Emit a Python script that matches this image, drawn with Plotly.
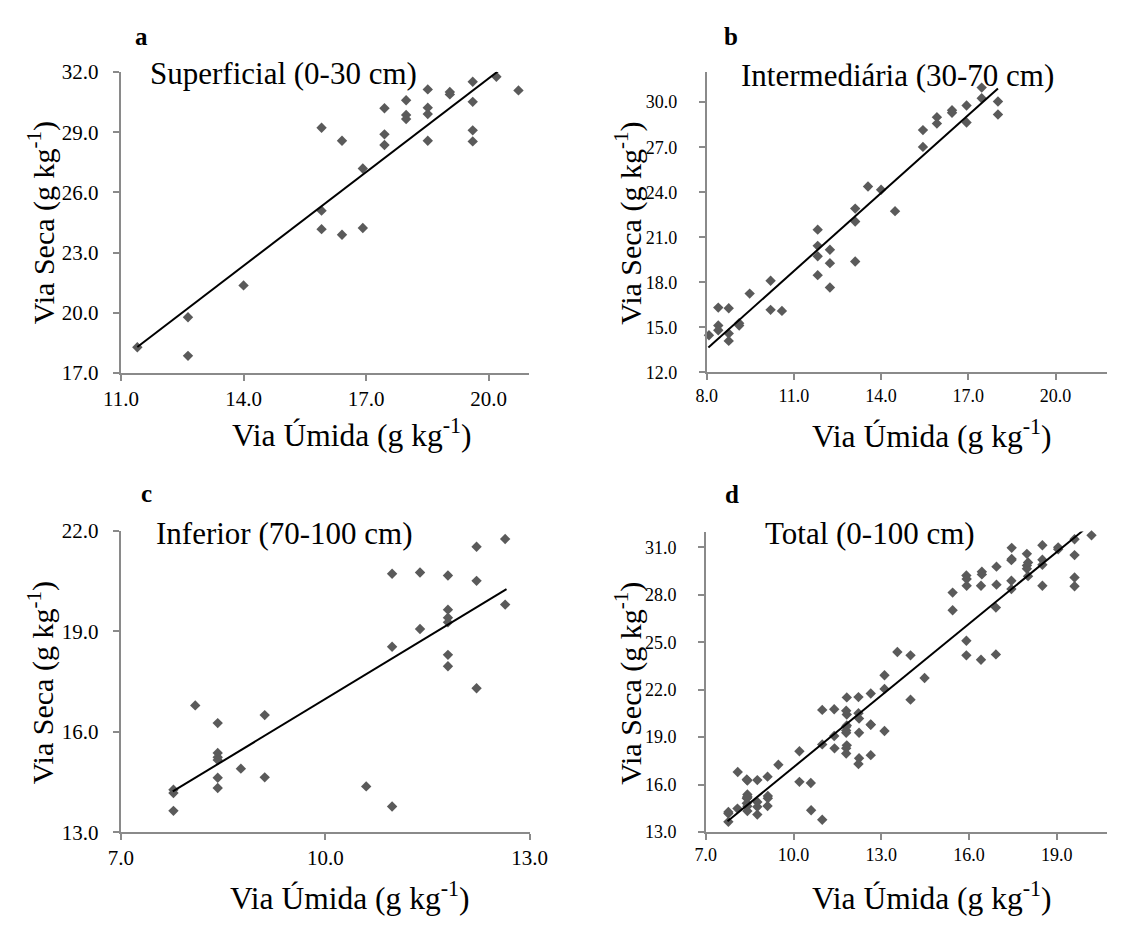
import plotly.graph_objects as go

# ---------------- data ----------------
a_x = [11.40, 12.64, 12.64, 14.00, 15.91, 15.91, 15.91, 16.41, 16.41, 16.92, 16.92,
       17.45, 17.45, 17.45, 17.98, 17.98, 17.98, 18.51, 18.51, 18.51, 18.51, 19.05,
       19.05, 19.61, 19.61, 19.61, 19.61, 20.19, 20.73]
a_y = [18.29, 19.78, 17.86, 21.37, 29.22, 25.09, 24.17, 28.57, 23.89, 27.19, 24.23,
       30.19, 28.89, 28.36, 30.59, 29.86, 29.65, 31.13, 30.22, 29.90, 28.57, 31.00,
       30.88, 31.51, 30.51, 29.09, 28.54, 31.76, 31.08]

b_x = [8.08, 8.40, 8.40, 8.40, 8.76, 8.76, 8.76, 9.12, 9.12, 9.48, 10.20, 10.20, 10.59,
       11.82, 11.82, 11.82, 11.82, 12.24, 12.24, 12.24, 13.11, 13.11, 13.11, 13.55,
       14.00, 14.48, 15.44, 15.44, 15.92, 15.92, 16.44, 16.44, 16.94, 16.94, 17.46,
       17.46, 18.02, 18.02]
b_y = [14.48, 16.32, 15.13, 14.81, 16.28, 14.59, 14.10, 15.28, 15.13, 17.25, 18.11,
       16.17, 16.10, 21.51, 20.43, 19.74, 18.48, 20.17, 19.28, 17.66, 22.91, 22.05,
       19.39, 24.38, 24.17, 22.74, 28.14, 27.02, 29.00, 28.57, 29.46, 29.29, 29.78,
       28.64, 30.97, 30.26, 30.04, 29.18]

c_x = [7.77, 7.77, 7.77, 8.09, 8.42, 8.42, 8.42, 8.42, 8.42, 8.42, 8.76, 9.11, 9.11,
       10.60, 10.98, 10.98, 10.98, 11.39, 11.39, 11.80, 11.80, 11.80, 11.80, 11.80,
       11.80, 12.22, 12.22, 12.22, 12.64, 12.64]
c_y = [14.27, 14.17, 13.64, 16.79, 16.26, 15.37, 15.24, 15.16, 14.63, 14.32, 14.90,
       16.50, 14.64, 14.37, 20.72, 18.54, 13.77, 20.76, 19.07, 20.67, 19.65, 19.41,
       19.27, 18.30, 17.96, 21.53, 20.51, 17.30, 21.76, 19.80]

# total = all three layers together
d_x = a_x + b_x + c_x
d_y = a_y + b_y + c_y

# trend lines (end points)
a_trend_x, a_trend_y = [11.40, 20.24], [18.30, 32.05]
b_trend_x, b_trend_y = [8.06, 18.02], [13.66, 30.91]
c_trend_x, c_trend_y = [7.76, 12.66], [14.22, 20.26]
d_trend_x, d_trend_y = [7.74, 19.90], [13.68, 32.06]

panel_letters = ["a", "b", "c", "d"]
panel_titles = ["Superficial (0-30 cm)", "Intermediária (30-70 cm)",
                "Inferior (70-100 cm)", "Total (0-100 cm)"]
x_title = "Via Úmida (g kg<sup>-1</sup>)"
y_title = "Via Seca (g kg<sup>-1</sup>)"

# ---------------- layout helpers ----------------
W, H = 1125, 930
FONT = "Liberation Serif, Times New Roman, serif"
MARK = "#5a5a5a"
AX = "#8a8a8a"


def px(x):
    return x / W


def py(y):
    return 1 - y / H


fig = go.Figure()
sets = [(a_x, a_y, a_trend_x, a_trend_y), (b_x, b_y, b_trend_x, b_trend_y),
        (c_x, c_y, c_trend_x, c_trend_y), (d_x, d_y, d_trend_x, d_trend_y)]
for i, (xs, ys, tx, ty) in enumerate(sets):
    k = "" if i == 0 else str(i + 1)
    fig.add_trace(go.Scatter(x=xs, y=ys, mode="markers", xaxis="x" + k, yaxis="y" + k,
                             marker=dict(symbol="diamond", size=8, color=MARK),
                             cliponaxis=False, showlegend=False, hoverinfo="skip"))
    fig.add_trace(go.Scatter(x=tx, y=ty, mode="lines", xaxis="x" + k, yaxis="y" + k,
                             line=dict(color="black", width=2),
                             showlegend=False, hoverinfo="skip"))

# pixel geometry of each plot area; ysuf = spacing after the y tick labels
geo = [
    dict(x0=106.4, x1=528.4, yt=61.5, yb=370.7, xr=[11, 21], yr=[17, 32], x0t=11, y0t=17, tf=21, ysuf="\u2002"),
    dict(x0=711.4, x1=1125, yt=61.7, yb=370.0, xr=[8, 21.77], yr=[12, 32], x0t=8, y0t=12, tf=18, ysuf="\u2003"),
    dict(x0=106.4, x1=528.6, yt=532.7, yb=842.0, xr=[7, 13], yr=[13, 22], x0t=7, y0t=13, tf=21, ysuf="\u2002"),
    dict(x0=710.6, x1=1125, yt=533.3, yb=841.7, xr=[7, 20.72], yr=[13, 32], x0t=7, y0t=13, tf=18, ysuf="\u2003"),
]

common = dict(showline=True, linecolor=AX, linewidth=1.5, ticks="outside", tickcolor=AX,
              ticklen=6, tickwidth=1.5, showgrid=False, zeroline=False, tickformat=".1f",
              dtick=3, fixedrange=True)

lay = {}
for i, g in enumerate(geo):
    k = "" if i == 0 else str(i + 1)
    lay["xaxis" + k] = dict(common, domain=[px(g["x0"]), min(1.0, px(g["x1"]))],
                            range=g["xr"], tick0=g["x0t"], anchor="y" + k,
                            tickfont=dict(family=FONT, size=g["tf"], color="black"))
    lay["yaxis" + k] = dict(common, domain=[py(g["yb"]), py(g["yt"])],
                            range=g["yr"], tick0=g["y0t"], anchor="x" + k,
                            ticksuffix=g["ysuf"],
                            tickfont=dict(family=FONT, size=g["tf"], color="black"))

ann = []
# panel letters
for lab, (x, y) in zip(panel_letters, [(128, 25), (737, 25), (133, 494), (738, 495)]):
    ann.append(dict(text="<b>%s</b>" % lab, x=px(x), y=py(y), xref="paper", yref="paper",
                    xanchor="center", yanchor="middle", showarrow=False,
                    font=dict(family=FONT, size=25, color="black")))
# panel subtitles
for t, (x, y) in zip(panel_titles, [(274.6, 63), (908.6, 65.5), (275, 535.5), (880, 535.5)]):
    ann.append(dict(text=t, x=px(x), y=py(y), xref="paper", yref="paper",
                    xanchor="center", yanchor="middle", showarrow=False,
                    font=dict(family=FONT, size=31, color="black")))
# y titles
for (x, y) in [(46, 216.7), (653, 216.7), (46, 689), (653, 689)]:
    ann.append(dict(text=y_title, x=px(x), y=py(y), xref="paper", yref="paper",
                    xanchor="right", yanchor="middle", textangle=-90, showarrow=False,
                    font=dict(family=FONT, size=30, color="black")))
# x titles
for (x, y) in [(345, 455), (944, 456), (343, 929.7), (944, 929.7)]:
    ann.append(dict(text=x_title, x=px(x), y=py(y), xref="paper", yref="paper",
                    xanchor="center", yanchor="bottom", showarrow=False,
                    font=dict(family=FONT, size=31.5, color="black")))

fig.update_layout(width=W, height=H, margin=dict(l=0, r=0, t=0, b=0),
                  paper_bgcolor="white", plot_bgcolor="white",
                  font=dict(family=FONT, color="black"), annotations=ann, **lay)

fig.write_html("out.html", config={"displayModeBar": False},
               post_script="document.body.style.margin='0';")
